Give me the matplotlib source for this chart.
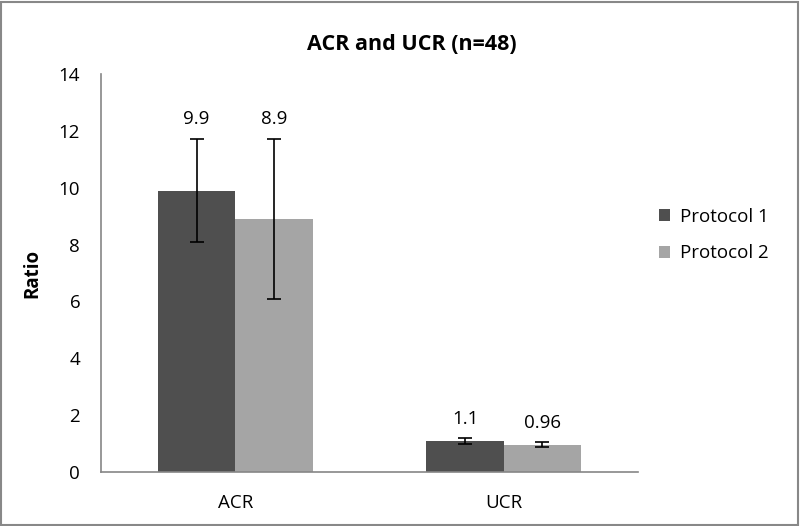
import matplotlib
matplotlib.use("Agg")
import matplotlib.pyplot as plt
import numpy as np
from matplotlib.patches import Rectangle

plt.rcParams['font.family'] = ['Open Sans', 'DejaVu Sans']

categories = ["ACR", "UCR"]
series_names = ["Protocol 1", "Protocol 2"]
protocol1 = [9.9, 1.1]
protocol2 = [8.9, 0.96]
err1 = [1.8, 0.1]
err2 = [2.8, 0.08]
labels1 = ["9.9", "1.1"]
labels2 = ["8.9", "0.96"]
label_y1 = [12.4, 1.86]
label_y2 = [12.4, 1.72]
colors = ["#4f4f4f", "#a5a5a5"]

fs = 13.5

fig = plt.figure(figsize=(8, 5.26), dpi=100)
ax = fig.add_axes([101/800, 54/526, 537/800, 398/526])

x = np.arange(len(categories))
w = 0.288
b1 = ax.bar(x - w/2, protocol1, w, color=colors[0], label=series_names[0],
            yerr=err1, error_kw=dict(ecolor="black", elinewidth=1.2, capsize=5, capthick=1.2))
b2 = ax.bar(x + w/2, protocol2, w, color=colors[1], label=series_names[1],
            yerr=err2, error_kw=dict(ecolor="black", elinewidth=1.2, capsize=5, capthick=1.2))

for i in range(len(categories)):
    ax.text(x[i] - w/2, label_y1[i], labels1[i], ha="center", va="center", fontsize=fs)
    ax.text(x[i] + w/2, label_y2[i], labels2[i], ha="center", va="center", fontsize=fs)

ax.set_xlim(-0.5, 1.5)
ax.set_ylim(0, 14)
ax.set_yticks(np.arange(0, 15, 2))
ax.set_xticks(x)
ax.set_xticklabels(categories, fontsize=fs)
ax.tick_params(axis="both", length=0, labelsize=fs)
ax.tick_params(axis="y", pad=15)
ax.tick_params(axis="x", pad=16)
for s in ["top", "right"]:
    ax.spines[s].set_visible(False)
for s in ["left", "bottom"]:
    ax.spines[s].set_color("#868686")
    ax.spines[s].set_linewidth(1.2)

ax.set_ylabel("Ratio", fontsize=fs, fontweight="bold", labelpad=12)
fig.text(412/800, 1 - 45/526, "ACR and UCR (n=48)", ha="center", va="center",
         fontsize=15.5, fontweight="bold")

leg = fig.legend(handles=[b1, b2], labels=series_names, loc="center left",
                 bbox_to_anchor=(642/800, 1 - 235/526), frameon=False,
                 fontsize=fs, handlelength=0.6, handleheight=0.6,
                 handletextpad=0.5, labelspacing=1.0)

fig.patches.append(Rectangle((0.0015, 0.002), 0.996, 0.995, transform=fig.transFigure,
                             fill=False, edgecolor="#888888", linewidth=1.5))

fig.savefig("out.png", dpi=100)
